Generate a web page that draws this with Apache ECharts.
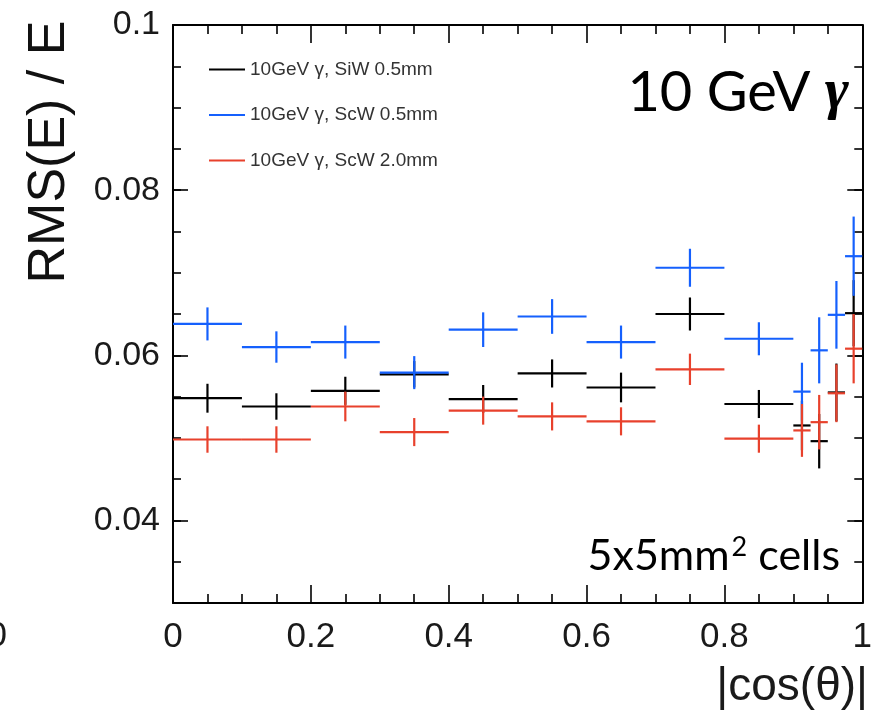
<!DOCTYPE html>
<html>
<head>
<meta charset="utf-8">
<script src="https://cdn.jsdelivr.net/npm/echarts@6/dist/echarts.min.js"></script>
<style>
html,body{margin:0;padding:0;background:#fff;}
#c{width:875px;height:715px;}
</style>
</head>
<body>
<div id="c"></div>
<script>
// ---- data ----
const binLow  = [0,0.1,0.2,0.3,0.4,0.5,0.6,0.7,0.8,0.9,0.925,0.95,0.975];
const binHigh = [0.1,0.2,0.3,0.4,0.5,0.6,0.7,0.8,0.9,0.925,0.95,0.975,1.0];

const siw05    = [0.0548,0.0538,0.0557,0.0577,0.0547,0.0578,0.0561,0.0650,0.0541,0.0515,0.0496,0.0555,0.0651];
const siw05Err = [0.00175,0.0016,0.0017,0.0016,0.0017,0.0017,0.0018,0.0020,0.0017,0.0030,0.0033,0.0035,0.0040];

const scw05    = [0.0638,0.0610,0.0616,0.0579,0.0631,0.0647,0.0616,0.0706,0.0620,0.0556,0.0606,0.0649,0.0720];
const scw05Err = [0.0020,0.0019,0.0020,0.0020,0.0021,0.0021,0.0020,0.0023,0.0020,0.0035,0.0040,0.0041,0.0048];

const scw20    = [0.0498,0.0498,0.0538,0.0507,0.0533,0.0526,0.0520,0.0583,0.0499,0.0509,0.0519,0.0554,0.0608];
const scw20Err = [0.0016,0.0016,0.0018,0.0017,0.0017,0.0017,0.0017,0.0019,0.0017,0.0032,0.0033,0.0035,0.0042];

const seriesNames = ['10GeV \u03b3, SiW 0.5mm','10GeV \u03b3, ScW 0.5mm','10GeV \u03b3, ScW 2.0mm'];
const seriesColors = ['#000000','#1560fd','#e8412c'];

const yMajorValues = [0.04,0.06,0.08,0.1];

// ---- build ----
function rows(vals, errs){
  return vals.map((v,i)=>[binLow[i], binHigh[i], v, errs[i]]);
}
function renderErr(color){
  return function(params, api){
    const xlo=api.value(0), xhi=api.value(1), y=api.value(2), e=api.value(3);
    const xc=(xlo+xhi)/2;
    const a=api.coord([xlo,y]), b=api.coord([xhi,y]);
    const c=api.coord([xc,y+e]), d=api.coord([xc,y-e]);
    return {type:'group', children:[
      {type:'line', shape:{x1:a[0],y1:a[1],x2:b[0],y2:b[1]}, style:{stroke:color,lineWidth:2.2}},
      {type:'line', shape:{x1:c[0],y1:c[1],x2:d[0],y2:d[1]}, style:{stroke:color,lineWidth:2.2}}
    ]};
  };
}
const allData=[rows(siw05,siw05Err), rows(scw05,scw05Err), rows(scw20,scw20Err)];

const chart=echarts.init(document.getElementById('c'),null,{renderer:'canvas'});
function ls(){ return {color:'#000',width:2}; }
function ts(){ return {color:'#000',width:1.6}; }

function xAx(pos, labels){
  return {
    type:'value', position:pos, min:0, max:1, interval:0.2,
    splitLine:{show:false},
    axisLine:{show:true, onZero:false, lineStyle:ls()},
    axisTick:{show:true, inside:true, length:18, lineStyle:ts()},
    minorTick:{show:true, splitNumber:4, length:9, lineStyle:ts()},
    axisLabel:{show:labels, margin:17, fontSize:35, color:'#1a1a1a',
      fontFamily:'"Liberation Sans", Arial, sans-serif'}
  };
}
// minor ticks every 0.005 (+ labels on the left one)
function yMinor(pos, labels){
  return {
    type:'value', position:pos, min:0.03, max:0.1, interval:0.005,
    splitLine:{show:false},
    axisLine:{show:true, onZero:false, lineStyle:ls()},
    axisTick:{show:true, inside:true, length:8, lineStyle:ts()},
    axisLabel:{show:labels, margin:13, fontSize:34, color:'#1a1a1a',
      fontFamily:'"Liberation Sans", Arial, sans-serif',
      customValues:yMajorValues}
  };
}
// major ticks at 0.02 steps
function yMajor(pos){
  return {
    type:'value', position:pos, min:0.03, max:0.1,
    splitLine:{show:false},
    axisLine:{show:false, onZero:false},
    axisTick:{show:true, inside:true, length:15, lineStyle:ts(), customValues:yMajorValues},
    axisLabel:{show:false, customValues:yMajorValues}
  };
}

chart.setOption({
  backgroundColor:'#fff',
  animation:false,
  grid:{left:173,right:9,top:25,bottom:112,containLabel:false},
  legend:{
    orient:'vertical', left:204, top:55, itemWidth:36, itemHeight:2, itemGap:26.5,
    icon:'rect',
    textStyle:{fontFamily:'"Liberation Sans", Arial, sans-serif', fontSize:19, color:'#333'},
    data:seriesNames.map((n,i)=>({name:n, icon:'rect', itemStyle:{color:seriesColors[i]}}))
  },
  xAxis:[xAx('bottom',true), xAx('top',false)],
  yAxis:[yMinor('left',true), yMinor('right',false), yMajor('left'), yMajor('right')],
  series:seriesNames.map((n,i)=>({
    name:n, type:'custom', xAxisIndex:0, yAxisIndex:0,
    itemStyle:{color:seriesColors[i]},
    renderItem:renderErr(seriesColors[i]),
    encode:{x:[0,1],y:[2]},
    data:allData[i], z:2+i, clip:true
  })),
  graphic:[
    {type:'text', x:50, y:152, rotation:Math.PI/2,
      style:{text:'RMS(E) / E', align:'center', verticalAlign:'middle',
        font:'52px "Liberation Sans", Arial, sans-serif', fill:'#111'}},
    {type:'text', x:868, y:687,
      style:{text:'|cos(\u03b8)|', align:'right', verticalAlign:'middle',
        font:'46px "Liberation Sans", Arial, sans-serif', fill:'#1a1a1a'}},
    {type:'text', x:849, y:93,
      style:{text:'{a|10 GeV }{g|\u03b3}', align:'right', verticalAlign:'middle',
        rich:{a:{fontFamily:'Lato, sans-serif', fontSize:56, color:'#3a3a3a'},
              g:{fontFamily:'"Liberation Serif", serif', fontStyle:'italic', fontWeight:'bold', fontSize:58, color:'#3a3a3a'}}}},
    {type:'text', x:840, y:553,
      style:{text:'{a|5x5mm}{s|2}{a| cells}', align:'right', verticalAlign:'middle',
        rich:{a:{fontFamily:'Lato, sans-serif', fontSize:43, color:'#000', lineHeight:50, verticalAlign:'bottom'},
              s:{fontFamily:'Lato, sans-serif', fontSize:27, color:'#000', lineHeight:50, verticalAlign:'top', padding:[6,0,0,2]}}}},
    {type:'text', x:7, y:636,
      style:{text:'0', align:'right', verticalAlign:'middle',
        font:'35px "Liberation Sans", Arial, sans-serif', fill:'#1a1a1a'}}
  ]
});
</script>
</body>
</html>
